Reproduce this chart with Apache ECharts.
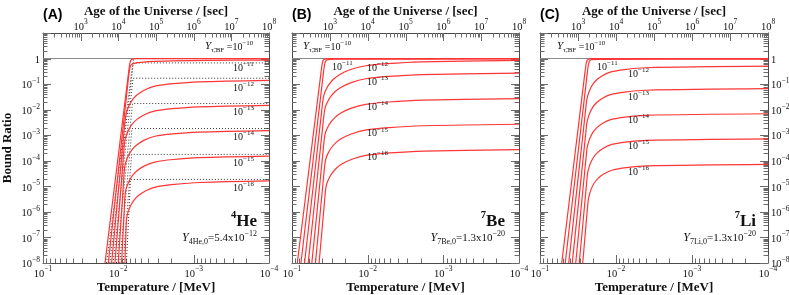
<!DOCTYPE html>
<html><head><meta charset="utf-8">
<script src="https://cdn.jsdelivr.net/npm/echarts@6/dist/echarts.min.js"></script>
<style>html,body{margin:0;padding:0;background:#fff}#c{width:789px;height:295px}</style>
</head><body><div id="c"></div>
<script>
const SERIF = "'Liberation Serif','Times New Roman','DejaVu Serif',serif";
const SANS = "'Liberation Sans',Arial,sans-serif";
const RED = '#ff3535', FRAME = '#4a4a4a', TICK = '#6a6a6a', INK = '#111';

// curve labels: exponents of Y_tau,BF
const yTauExp = [-10, -11, -12, -13, -14, -15, -16];
// element labels
const elements = ['4He', '7Be', '7Li'];
const elemY0 = ['5.4x10', '1.3x10', '1.3x10'];
const elemY0Exp = [-12, -20, -20];
const panelTags = ['(A)', '(B)', '(C)'];

// ---- data: [log10(T / MeV), log10(bound ratio)] ----
// (A) 4He, red curves
const he4_Y10 = [[-1.823,-8],[-2.134,-0.6],[-2.146,-0.32],[-2.156,-0.15],[-2.168,-0.06],[-2.185,-0.02],[-2.23,-0.005],[-4,0]];
const he4_Y11 = [[-1.867,-8],[-2.133,-0.8],[-2.145,-0.5],[-2.156,-0.33],[-2.17,-0.25],[-2.2,-0.2],[-2.26,-0.16],[-2.4,-0.12],[-2.7,-0.09],[-3.2,-0.07],[-4,-0.06]];
const he4_Y12 = [[-1.911,-8],[-2.069,-3.05],[-2.089,-2.45],[-2.100,-2.2],[-2.119,-2.01],[-2.149,-1.8],[-2.194,-1.59],[-2.254,-1.41],[-2.349,-1.23],[-2.499,-1.07],[-2.729,-0.98],[-3.069,-0.91],[-4,-0.85]];
const he4_Y13 = [[-1.955,-8],[-2.062,-4.03],[-2.078,-3.43],[-2.089,-3.18],[-2.108,-2.99],[-2.138,-2.78],[-2.183,-2.57],[-2.243,-2.39],[-2.338,-2.21],[-2.488,-2.05],[-2.718,-1.96],[-3.058,-1.89],[-4,-1.83]];
const he4_Y14 = [[-1.999,-8],[-2.065,-5.02],[-2.078,-4.42],[-2.089,-4.17],[-2.108,-3.98],[-2.138,-3.77],[-2.183,-3.56],[-2.243,-3.38],[-2.338,-3.2],[-2.488,-3.04],[-2.718,-2.95],[-3.058,-2.88],[-4,-2.82]];
const he4_Y15 = [[-2.043,-8],[-2.077,-6.02],[-2.087,-5.42],[-2.098,-5.17],[-2.117,-4.98],[-2.147,-4.77],[-2.192,-4.56],[-2.252,-4.38],[-2.347,-4.2],[-2.497,-4.04],[-2.727,-3.95],[-3.067,-3.88],[-4,-3.82]];
const he4_Y16 = [[-2.087,-8],[-2.099,-6.99],[-2.106,-6.39],[-2.117,-6.14],[-2.136,-5.95],[-2.166,-5.74],[-2.211,-5.53],[-2.271,-5.35],[-2.366,-5.17],[-2.516,-5.01],[-2.746,-4.92],[-3.086,-4.85],[-4,-4.79]];
// (A) 4He, dotted approximations
const he4_D10 = [[-1.843,-8],[-2.201,0],[-4,0]];
const he4_D11 = [[-1.887,-8],[-2.199,-0.17],[-4,-0.17]];
const he4_D12 = [[-1.931,-8],[-2.195,-0.77],[-4,-0.77]];
const he4_D13 = [[-1.975,-8],[-2.188,-1.76],[-4,-1.76]];
const he4_D14 = [[-2.019,-8],[-2.181,-2.74],[-4,-2.74]];
const he4_D15 = [[-2.063,-8],[-2.177,-3.75],[-4,-3.75]];
const he4_D16 = [[-2.107,-8],[-2.162,-4.73],[-4,-4.73]];
// (B) 7Be
const be7_Y10 = [[-1.070,-8],[-1.381,-0.6],[-1.393,-0.32],[-1.403,-0.15],[-1.415,-0.06],[-1.432,-0.02],[-1.48,-0.005],[-4,0]];
const be7_Y11 = [[-1.118,-8],[-1.414,-0.6],[-1.425,-0.33],[-1.436,-0.17],[-1.45,-0.08],[-1.475,-0.04],[-1.55,-0.025],[-4,-0.015]];
const be7_Y12 = [[-1.166,-8],[-1.384,-2.27],[-1.407,-1.67],[-1.422,-1.42],[-1.447,-1.23],[-1.487,-1.02],[-1.547,-0.81],[-1.627,-0.63],[-1.757,-0.45],[-1.957,-0.29],[-2.257,-0.2],[-2.707,-0.13],[-4,-0.07]];
const be7_Y13 = [[-1.214,-8],[-1.402,-2.77],[-1.424,-2.17],[-1.439,-1.92],[-1.464,-1.73],[-1.504,-1.52],[-1.564,-1.31],[-1.644,-1.13],[-1.774,-0.95],[-1.974,-0.79],[-2.274,-0.7],[-2.724,-0.63],[-4,-0.57]];
const be7_Y14 = [[-1.262,-8],[-1.406,-3.77],[-1.426,-3.17],[-1.441,-2.92],[-1.466,-2.73],[-1.506,-2.52],[-1.566,-2.31],[-1.646,-2.13],[-1.776,-1.95],[-1.976,-1.79],[-2.276,-1.7],[-2.726,-1.63],[-4,-1.57]];
const be7_Y15 = [[-1.310,-8],[-1.413,-4.77],[-1.433,-4.17],[-1.448,-3.92],[-1.473,-3.73],[-1.513,-3.52],[-1.573,-3.31],[-1.653,-3.13],[-1.783,-2.95],[-1.983,-2.79],[-2.283,-2.7],[-2.733,-2.63],[-4,-2.57]];
const be7_Y16 = [[-1.358,-8],[-1.425,-5.76],[-1.443,-5.16],[-1.458,-4.91],[-1.483,-4.72],[-1.523,-4.51],[-1.583,-4.3],[-1.663,-4.12],[-1.793,-3.94],[-1.993,-3.78],[-2.293,-3.69],[-2.743,-3.62],[-4,-3.56]];
// (C) 7Li
const li7_Y10 = [[-1.286,-8],[-1.589,-0.6],[-1.601,-0.32],[-1.611,-0.15],[-1.623,-0.06],[-1.64,-0.02],[-1.69,-0.005],[-4,0]];
const li7_Y11 = [[-1.332,-8],[-1.621,-0.6],[-1.632,-0.33],[-1.643,-0.17],[-1.657,-0.08],[-1.68,-0.045],[-1.76,-0.03],[-4,-0.02]];
const li7_Y12 = [[-1.378,-8],[-1.582,-2.5],[-1.604,-1.9],[-1.613,-1.65],[-1.628,-1.46],[-1.652,-1.25],[-1.688,-1.04],[-1.736,-0.86],[-1.814,-0.68],[-1.934,-0.52],[-2.114,-0.43],[-2.384,-0.36],[-4,-0.3]];
const li7_Y13 = [[-1.424,-8],[-1.586,-3.38],[-1.607,-2.78],[-1.616,-2.53],[-1.631,-2.34],[-1.655,-2.13],[-1.691,-1.92],[-1.739,-1.74],[-1.817,-1.56],[-1.937,-1.4],[-2.117,-1.31],[-2.387,-1.24],[-4,-1.18]];
const li7_Y14 = [[-1.470,-8],[-1.590,-4.36],[-1.610,-3.76],[-1.619,-3.51],[-1.634,-3.32],[-1.658,-3.11],[-1.694,-2.9],[-1.742,-2.72],[-1.82,-2.54],[-1.94,-2.38],[-2.12,-2.29],[-2.39,-2.22],[-4,-2.16]];
const li7_Y15 = [[-1.516,-8],[-1.599,-5.34],[-1.617,-4.74],[-1.626,-4.49],[-1.641,-4.3],[-1.665,-4.09],[-1.701,-3.88],[-1.749,-3.7],[-1.827,-3.52],[-1.947,-3.36],[-2.127,-3.27],[-2.397,-3.2],[-4,-3.14]];
const li7_Y16 = [[-1.562,-8],[-1.610,-6.34],[-1.628,-5.74],[-1.637,-5.49],[-1.652,-5.3],[-1.676,-5.09],[-1.712,-4.88],[-1.76,-4.7],[-1.838,-4.52],[-1.958,-4.36],[-2.138,-4.27],[-2.408,-4.2],[-4,-4.14]];

const he4Red = [he4_Y10, he4_Y11, he4_Y12, he4_Y13, he4_Y14, he4_Y15, he4_Y16];
const he4Dot = [he4_D10, he4_D11, he4_D12, he4_D13, he4_D14, he4_D15, he4_D16];
const be7Red = [be7_Y10, be7_Y11, be7_Y12, be7_Y13, be7_Y14, be7_Y15, be7_Y16];
const li7Red = [li7_Y10, li7_Y11, li7_Y12, li7_Y13, li7_Y14, li7_Y15, li7_Y16];

// ---- layout (pixels) ----
const GTOP = 33, GH = 230;
const panels = [
  {left: 43, width: 226, red: he4Red, dot: he4Dot,
   yLab: [205, 47], lab11: [233, 67], labX: 233, labY: [87, 111, 136, 162, 187], elemRight: 257},
  {left: 292, width: 227, red: be7Red, dot: [],
   yLab: [303, 47], lab11: [332, 66], labX: 367, labY: [67, 81, 106, 132.5, 156], elemRight: 505},
  {left: 540, width: 228, red: li7Red, dot: [],
   yLab: [557, 47], lab11: [597, 66], labX: 628, labY: [73, 96, 119, 145, 171], elemRight: 756}
];

const toPts = arr => arr.map(([lt, lr]) => [Math.pow(10, lt), Math.pow(10, lr)]);
const minus = e => (e < 0 ? '\u2212' + (-e) : '' + e);
const expOf = v => Math.round(Math.log10(v));

const richTick = {
  b: {fontFamily: SERIF, fontSize: 10.5, color: INK, verticalAlign: 'top', padding: [3, 0, 0, 0]},
  s: {fontFamily: SERIF, fontSize: 7.5, color: INK, verticalAlign: 'top'}
};
const fmtT = v => '{b|10}{s|' + minus(expOf(v)) + '}';
const fmtAge = v => { const e = expOf(v); return e <= 2 ? '' : '{b|10}{s|' + minus(e) + '}'; };
const fmtR = v => { const e = expOf(v); if (e >= 1) return ''; if (e === 0) return '{b|1}'; return '{b|10}{s|' + minus(e) + '}'; };

const nameStyle = {fontFamily: SERIF, fontWeight: 'bold', fontSize: 13, color: INK};

const grid = [], xAxis = [], yAxis = [], series = [];

function logTicks(k0, k1) {
  const out = [];
  for (let k = k0; k < k1; k++) for (let m = 1; m < 10; m++) out.push([m * Math.pow(10, k), m === 1]);
  out.push([Math.pow(10, k1), true]);
  return out;
}
function tickRender(params, api) {
  const cs = params.coordSys;
  const kind = api.value(2), len = api.value(3);
  const p = api.coord([api.value(0), api.value(1)]);
  const st = {stroke: TICK, lineWidth: 1};
  if (kind === 0) {
    const x = Math.round(p[0]) + 0.5, yb = cs.y + cs.height;
    return {type: 'line', shape: {x1: x, y1: yb, x2: x, y2: yb - len}, style: st};
  } else if (kind === 1) {
    const x = Math.round(p[0]) + 0.5;
    return {type: 'line', shape: {x1: x, y1: cs.y, x2: x, y2: cs.y + len}, style: st};
  }
  const y = Math.round(p[1]) + 0.5;
  return {type: 'group', children: [
    {type: 'line', shape: {x1: cs.x, y1: y, x2: cs.x + len, y2: y}, style: st},
    {type: 'line', shape: {x1: cs.x + cs.width, y1: y, x2: cs.x + cs.width - len, y2: y}, style: st}
  ]};
}

panels.forEach((p, g) => {
  grid.push({left: p.left, top: GTOP, width: p.width, height: GH, show: false,
    containLabel: false, outerBoundsMode: 'none'});
  const lineCommon = {show: true, onZero: false, lineStyle: {color: FRAME, width: 1}};
  xAxis.push({type: 'log', logBase: 10, gridIndex: g, position: 'bottom', inverse: true,
    min: 1e-4, max: 1e-1, interval: 1, splitNumber: 3,
    axisLine: lineCommon, axisTick: {show: false}, splitLine: {show: false}, minorTick: {show: false},
    axisLabel: {formatter: fmtT, margin: 2.5, rich: richTick, showMinLabel: true, showMaxLabel: true},
    name: 'Temperature / [MeV]', nameLocation: 'middle', nameGap: 18, nameMoveOverlap: false, nameTextStyle: nameStyle});
  xAxis.push({type: 'log', logBase: 10, gridIndex: g, position: 'top',
    min: 1e2, max: 1e8, interval: 1, splitNumber: 6,
    axisLine: lineCommon, axisTick: {show: false}, splitLine: {show: false}, minorTick: {show: false},
    axisLabel: {formatter: fmtAge, margin: 0.5, rich: richTick, showMinLabel: true, showMaxLabel: true},
    name: 'Age of the Universe / [sec]', nameLocation: 'middle', nameGap: 15, nameMoveOverlap: false, nameTextStyle: nameStyle});
  yAxis.push({type: 'log', logBase: 10, gridIndex: g, position: 'left',
    min: 1e-8, max: 10, interval: 1, splitNumber: 9,
    axisLine: lineCommon, axisTick: {show: false}, splitLine: {show: false}, minorTick: {show: false},
    axisLabel: {show: g === 0, formatter: fmtR, margin: 3, rich: richTick, showMinLabel: true, showMaxLabel: true},
    name: g === 0 ? 'Bound Ratio' : '', nameLocation: 'middle', nameGap: 28.5, nameRotate: 90, nameMoveOverlap: false, nameTextStyle: nameStyle});
  yAxis.push({type: 'log', logBase: 10, gridIndex: g, position: 'right',
    min: 1e-8, max: 10, interval: 1, splitNumber: 9,
    axisLine: lineCommon, axisTick: {show: false}, splitLine: {show: false}, minorTick: {show: false},
    axisLabel: {show: g === 2, formatter: fmtR, margin: 3, rich: richTick, showMinLabel: true, showMaxLabel: true}});

  const xi = 2 * g, yi = 2 * g;
  // ticks
  const tData = [];
  logTicks(-4, -1).forEach(([v, maj]) => tData.push([v, 1, 0, maj ? 8 : 4.5]));
  logTicks(-8, 1).forEach(([v, maj]) => tData.push([1e-2, v, 2, maj ? 8 : 4.5]));
  series.push({type: 'custom', xAxisIndex: xi, yAxisIndex: yi, renderItem: tickRender, data: tData, silent: true, z: 1});
  const aData = logTicks(2, 8).map(([v, maj]) => [v, 1, 1, maj ? 8 : 4.5]);
  series.push({type: 'custom', xAxisIndex: xi + 1, yAxisIndex: yi, renderItem: tickRender, data: aData, silent: true, z: 1});

  // dotted approximations
  p.dot.forEach(c => series.push({type: 'line', xAxisIndex: xi, yAxisIndex: yi, data: toPts(c),
    symbol: 'none', silent: true, z: 3, lineStyle: {color: '#333', width: 1, type: [1, 2]}}));
  // red curves
  p.red.forEach((c, i) => {
    const s = {type: 'line', xAxisIndex: xi, yAxisIndex: yi, data: toPts(c), symbol: 'none', smooth: 0.3,
      silent: true, z: 4, lineStyle: {color: RED, width: 1.2}};
    if (i === 0) s.markLine = {silent: true, symbol: 'none', label: {show: false}, animation: false,
      lineStyle: {color: '#8a8a8a', width: 1, type: 'solid'}, data: [{yAxis: 1}], z: 2};
    series.push(s);
  });
});

// ---- text annotations ----
const richNote = {
  b: {fontFamily: SERIF, fontSize: 10, fill: INK, verticalAlign: 'top', padding: [2, 0, 0, 0]},
  s: {fontFamily: SERIF, fontSize: 7, fill: INK, verticalAlign: 'top'},
  y: {fontFamily: SERIF, fontSize: 11, fontStyle: 'italic', fill: INK, verticalAlign: 'top', padding: [1, 0, 0, 0]},
  d: {fontFamily: SERIF, fontSize: 7, fill: INK, verticalAlign: 'top', padding: [7, 0, 0, 0]},
  B: {fontFamily: SERIF, fontSize: 11, fill: INK, verticalAlign: 'top', padding: [2.5, 0, 0, 0]},
  S: {fontFamily: SERIF, fontSize: 8, fill: INK, verticalAlign: 'top'},
  Y: {fontFamily: SERIF, fontSize: 12, fontStyle: 'italic', fill: INK, verticalAlign: 'top', padding: [1.5, 0, 0, 0]},
  D: {fontFamily: SERIF, fontSize: 8, fill: INK, verticalAlign: 'top', padding: [8, 0, 0, 0]},
  E: {fontFamily: SERIF, fontSize: 17, fontWeight: 'bold', fill: INK, verticalAlign: 'top', padding: [3.5, 0, 0, 0]},
  e: {fontFamily: SERIF, fontSize: 10.5, fontWeight: 'bold', fill: INK, verticalAlign: 'top'}
};
function txt(x, y, text, align) {
  return {type: 'text', x, y, silent: true, z: 10,
    style: {text, rich: richNote, align, textAlign: align, verticalAlign: 'middle', textVerticalAlign: 'middle', fill: INK}};
}
const graphics = [];
panels.forEach((p, g) => {
  graphics.push({type: 'text', x: p.left, y: 15, silent: true,
    style: {text: panelTags[g], font: 'bold 14px ' + SANS, fill: '#000', align: 'left', verticalAlign: 'middle',
      textAlign: 'left', textVerticalAlign: 'middle'}});
  graphics.push(txt(p.yLab[0], p.yLab[1], '{y|Y}{d|\u03C4\u0303,BF}{b| =10}{s|' + minus(yTauExp[0]) + '}', 'left'));
  graphics.push(txt(p.lab11[0], p.lab11[1], '{b|10}{s|' + minus(yTauExp[1]) + '}', 'left'));
  p.labY.forEach((yy, k) => graphics.push(txt(p.labX, yy, '{b|10}{s|' + minus(yTauExp[k + 2]) + '}', 'left')));
  const el = elements[g];
  graphics.push(txt(p.elemRight, 220, '{e|' + el[0] + '}{E|' + el.slice(1) + '}', 'right'));
  graphics.push(txt(p.elemRight, 238, '{Y|Y}{D|' + el + ',0}{B|=' + elemY0[g] + '}{S|' + minus(elemY0Exp[g]) + '}', 'right'));
});

const chart = echarts.init(document.getElementById('c'), null, {renderer: 'canvas'});
chart.setOption({
  animation: false,
  backgroundColor: '#fff',
  grid, xAxis, yAxis, series,
  graphic: {elements: graphics}
});
</script></body></html>
